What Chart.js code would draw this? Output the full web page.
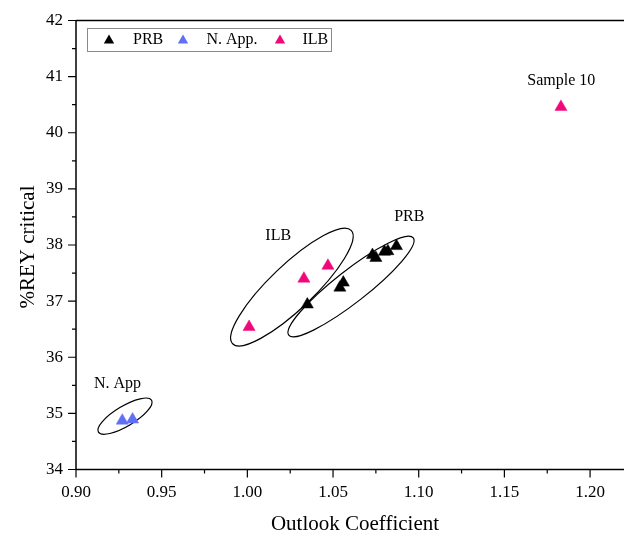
<!DOCTYPE html>
<html><head><meta charset="utf-8">
<script src="https://cdn.jsdelivr.net/npm/chart.js@4/dist/chart.umd.min.js"></script>
<style>html,body{margin:0;padding:0;background:#fff;overflow:hidden}#wrap{width:624px;height:537px}</style>
</head><body><div id="wrap"><canvas id="c" width="624" height="537"></canvas></div>
<script>
// ---- data ----
const prbX = [1.035, 1.054, 1.056, 1.073, 1.075, 1.080, 1.082, 1.087];
const prbY = [36.94, 37.24, 37.33, 37.82, 37.77, 37.88, 37.89, 37.98];
const nappX = [0.927, 0.933];
const nappY = [34.87, 34.89];
const ilbX = [1.001, 1.033, 1.047, 1.183];
const ilbY = [36.54, 37.40, 37.63, 40.46];
const seriesNames = ['PRB', 'N. App.', 'ILB'];
const xTickValues = [0.90, 0.95, 1.00, 1.05, 1.10, 1.15, 1.20];
const yTickValues = [34, 35, 36, 37, 38, 39, 40, 41, 42];
const noteTexts = ['ILB', 'PRB', 'N. App', 'Sample 10'];
const noteX = [1.018, 1.0945, 0.9242, 1.1832];
const noteY = [38.17, 38.50, 35.53, 40.92];
// group ellipses: centre in data units, radii in px, angle in degrees
const ellCX = [1.0260, 1.0605, 0.9286];
const ellCY = [37.25, 37.26, 34.95];

const colors = ['#000000', 'rgb(96,112,245)', 'rgb(240,8,122)'];
const ellA = [82, 79, 31], ellB = [22, 16, 10], ellAng = [-43.7, -38, -31];
const SERIF = '"Liberation Serif","DejaVu Serif",serif';

const toPts = (xs, ys) => xs.map((x, i) => ({x, y: ys[i]}));

function tri(ctx, x, y, r) {
  ctx.beginPath();
  ctx.moveTo(x, y - r);
  ctx.lineTo(x + r * Math.sin(Math.PI/3), y + r * 0.5);
  ctx.lineTo(x - r * Math.sin(Math.PI/3), y + r * 0.5);
  ctx.closePath();
  ctx.fill();
}

const deco = {
  id: 'deco',
  beforeDatasetsDraw(chart) {
    const ctx = chart.ctx, xs = chart.scales.x, ys = chart.scales.y;
    ctx.save();
    ctx.strokeStyle = '#000'; ctx.lineWidth = 1.2;
    for (let i = 0; i < ellCX.length; i++) {
      ctx.beginPath();
      ctx.ellipse(xs.getPixelForValue(ellCX[i]), ys.getPixelForValue(ellCY[i]),
        ellA[i], ellB[i], ellAng[i] * Math.PI / 180, 0, Math.PI * 2);
      ctx.stroke();
    }
    ctx.restore();
  },
  afterDraw(chart) {
    const ctx = chart.ctx, xs = chart.scales.x, ys = chart.scales.y, a = chart.chartArea;
    ctx.save();
    ctx.strokeStyle = '#000'; ctx.lineWidth = 1.5;
    ctx.beginPath();
    ctx.moveTo(a.left, a.top); ctx.lineTo(624, a.top);
    ctx.moveTo(a.left, a.top); ctx.lineTo(a.left, a.bottom);
    ctx.moveTo(a.left, a.bottom); ctx.lineTo(624, a.bottom);
    ctx.stroke();
    ctx.lineWidth = 1.2;
    ctx.beginPath();
    for (let i = 0; i < xTickValues.length; i++) {
      const px = xs.getPixelForValue(xTickValues[i]);
      ctx.moveTo(px, a.bottom); ctx.lineTo(px, a.bottom + 8);
      const mv = xTickValues[i] + 0.025;
      if (mv <= xs.max) { const mp = xs.getPixelForValue(mv); ctx.moveTo(mp, a.bottom); ctx.lineTo(mp, a.bottom + 4); }
    }
    for (let i = 0; i < yTickValues.length; i++) {
      const py = ys.getPixelForValue(yTickValues[i]);
      ctx.moveTo(a.left, py); ctx.lineTo(a.left - 8, py);
      if (i < yTickValues.length - 1) { const mp = ys.getPixelForValue(yTickValues[i] + 0.5); ctx.moveTo(a.left, mp); ctx.lineTo(a.left - 4, mp); }
    }
    ctx.stroke();

    ctx.fillStyle = '#000';
    ctx.font = '16px ' + SERIF;
    ctx.textAlign = 'center'; ctx.textBaseline = 'middle';
    for (let i = 0; i < noteTexts.length; i++) {
      ctx.fillText(noteTexts[i], xs.getPixelForValue(noteX[i]), ys.getPixelForValue(noteY[i]));
    }

    ctx.font = '21px ' + SERIF;
    ctx.fillText('Outlook Coefficient', 355, 524);
    ctx.save();
    ctx.translate(28, 247); ctx.rotate(-Math.PI / 2);
    ctx.fillText('%REY critical', 0, 0);
    ctx.restore();

    ctx.strokeStyle = '#8a8a8a'; ctx.lineWidth = 1;
    ctx.strokeRect(87.5, 28.5, 244, 23);
    const lx = [109, 183, 280], tx = [133, 206.5, 302.5];
    ctx.font = '16px ' + SERIF; ctx.textAlign = 'left';
    for (let i = 0; i < 3; i++) {
      ctx.fillStyle = colors[i];
      tri(ctx, lx[i], 40.5, 6);
      ctx.fillStyle = '#000';
      ctx.fillText(seriesNames[i], tx[i], 40);
    }
    ctx.restore();
  }
};

const mk = (label, pts, c) => ({
  label, data: pts, pointStyle: 'triangle', pointRadius: 7, pointHoverRadius: 7,
  backgroundColor: c, borderColor: c, borderWidth: 0.5, showLine: false
});

new Chart(document.getElementById('c'), {
  type: 'scatter',
  data: {
    datasets: [
      mk(seriesNames[0], toPts(prbX, prbY), colors[0]),
      mk(seriesNames[1], toPts(nappX, nappY), colors[1]),
      mk(seriesNames[2], toPts(ilbX, ilbY), colors[2])
    ]
  },
  options: {
    responsive: false, animation: false, events: [],
    layout: {padding: {top: 20.5, right: 0, bottom: 0, left: 0}, autoPadding: false},
    plugins: {legend: {display: false}, tooltip: {enabled: false}},
    scales: {
      x: {
        type: 'linear', min: 0.9, max: 1.2198,
        grid: {display: false, drawTicks: false, tickLength: 0}, border: {display: false},
        afterBuildTicks: s => { s.ticks = xTickValues.map(v => ({value: v})); },
        afterFit: s => { s.height = 67.5; s.paddingLeft = 0; s.paddingRight = 0; },
        ticks: {padding: 13, color: '#000', font: {family: SERIF, size: 17},
          callback: v => Number(v).toFixed(2), maxRotation: 0, autoSkip: false}
      },
      y: {
        type: 'linear', min: 34, max: 42,
        grid: {display: false, drawTicks: false, tickLength: 0}, border: {display: false},
        afterBuildTicks: s => { s.ticks = yTickValues.map(v => ({value: v})); },
        afterFit: s => { s.width = 76; s.paddingTop = 0; s.paddingBottom = 0; },
        ticks: {padding: 13, color: '#000', font: {family: SERIF, size: 17},
          callback: v => String(v), autoSkip: false}
      }
    }
  },
  plugins: [deco]
});
</script>
</body></html>
